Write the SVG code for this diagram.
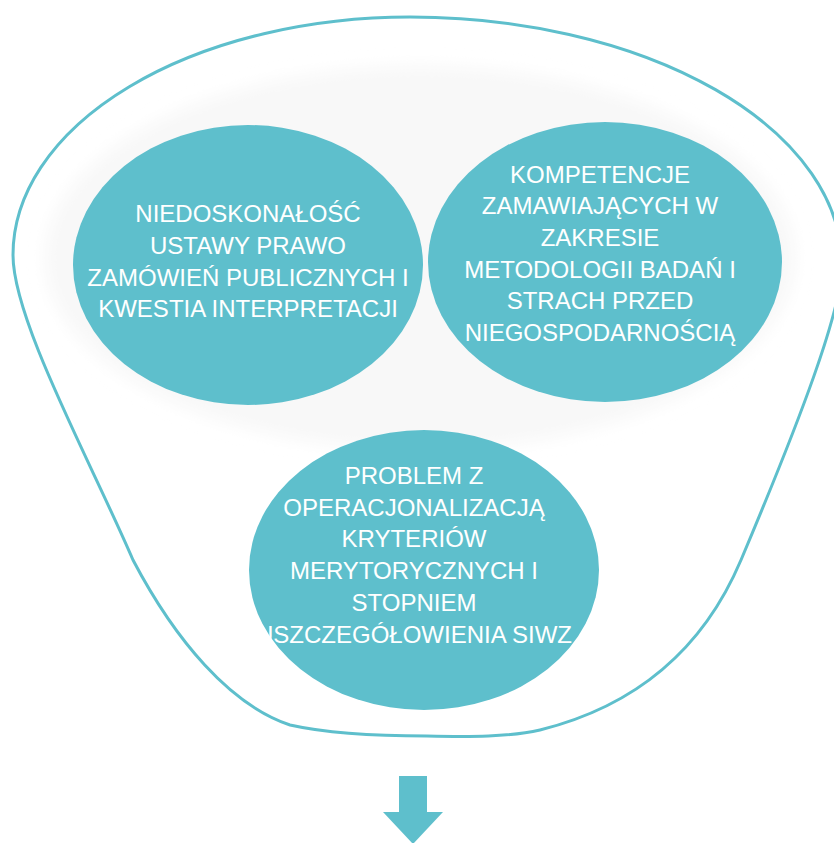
<svg xmlns="http://www.w3.org/2000/svg" width="834" height="843" viewBox="0 0 834 843">
  <defs>
    <filter id="soft" x="-10%" y="-10%" width="120%" height="120%">
      <feGaussianBlur stdDeviation="8"/>
    </filter>
    <style>
      .bubble { fill: #5EBFCC; }
      .label { fill: #FFFFFF; font-family: "Liberation Sans", Arial, sans-serif; font-size: 24px; text-anchor: middle; }
      .outline { fill: none; stroke: #5EBFCC; stroke-width: 3; }
      .arrow { fill: #5EBFCC; }
    </style>
  </defs>
  <rect x="0" y="0" width="834" height="843" fill="#FFFFFF"/>

  <g id="funnel">
    <path class="outline" d="M 13,255 A 397 238 0 0 1 410,17 A 432 248 0 0 1 842,265 C 842,310 800,420 741,560 C 705,645 640,705 540,730 C 510,737 470,737 427,736 C 380,736 330,734 290,725 C 230,705 175,640 133,560 C 90,460 13,320 13,255 Z"/>
  </g>

  <g id="backdrop">
    <ellipse cx="420" cy="258" rx="375" ry="192" fill="#F8F8F8" filter="url(#soft)"/>
  </g>

  <g id="node-ustawa">
    <ellipse class="bubble" cx="248" cy="265" rx="175" ry="140"/>
    <text class="label" x="248" y="222">NIEDOSKONAŁOŚĆ</text>
    <text class="label" x="248" y="254">USTAWY PRAWO</text>
    <text class="label" x="248" y="286">ZAMÓWIEŃ PUBLICZNYCH I</text>
    <text class="label" x="248" y="317">KWESTIA INTERPRETACJI</text>
  </g>

  <g id="node-kompetencje">
    <ellipse class="bubble" cx="605" cy="262" rx="177" ry="140"/>
    <text class="label" x="600" y="183">KOMPETENCJE</text>
    <text class="label" x="600" y="214">ZAMAWIAJĄCYCH W</text>
    <text class="label" x="600" y="246">ZAKRESIE</text>
    <text class="label" x="600" y="278">METODOLOGII BADAŃ I</text>
    <text class="label" x="600" y="309">STRACH PRZED</text>
    <text class="label" x="600" y="341">NIEGOSPODARNOŚCIĄ</text>
  </g>

  <g id="node-problem">
    <ellipse class="bubble" cx="424" cy="570" rx="175" ry="140"/>
    <text class="label" x="414" y="484">PROBLEM Z</text>
    <text class="label" x="414" y="516">OPERACJONALIZACJĄ</text>
    <text class="label" x="414" y="547">KRYTERIÓW</text>
    <text class="label" x="414" y="579">MERYTORYCZNYCH I</text>
    <text class="label" x="414" y="611">STOPNIEM</text>
    <text class="label" x="414" y="643">USZCZEGÓŁOWIENIA SIWZ</text>
  </g>

  <g id="connectors">
    <path class="arrow" d="M 399,776 L 427,776 L 427,812 L 443,812 L 413,844 L 383,812 L 399,812 Z"/>
  </g>
</svg>
